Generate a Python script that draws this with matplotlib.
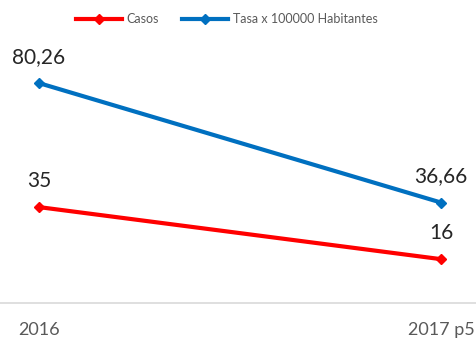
import matplotlib.pyplot as plt

# data
years = ["2016", "2017 p5"]
casos = [35, 16]
tasa = [80.26, 36.66]
casos_labels = ["35", "16"]
tasa_labels = ["80,26", "36,66"]

plt.rcParams['font.family'] = ['Lato', 'DejaVu Sans']

fig = plt.figure(figsize=(4.77, 3.41), dpi=100)
ax = fig.add_axes([0, 38 / 341, 1, 274 / 341])

x = list(range(len(years)))
red = "#FF0000"
blue = "#0070C0"

ax.plot(x, casos, color=red, lw=3, marker="D", ms=5, label="Casos")
ax.plot(x, tasa, color=blue, lw=3, marker="D", ms=5,
        label="Tasa x 100000 Habitantes")

# data labels above points
for xi, v, lab in zip(x, casos, casos_labels):
    ax.annotate(lab, (xi, v), xytext=(0, 19), textcoords="offset points",
                ha="center", va="center", fontsize=15, color="#262626")
for xi, v, lab in zip(x, tasa, tasa_labels):
    ax.annotate(lab, (xi, v), xytext=(0, 19), textcoords="offset points",
                ha="center", va="center", fontsize=15, color="#262626")

ax.set_ylim(0, 100)
ax.set_xlim(-39 / 402, 1 + 36 / 402)
ax.set_yticks([])
ax.set_xticks(x)
ax.set_xticklabels(years, fontsize=13, color="#595959")
ax.tick_params(axis="x", length=0, pad=14)
for s in ["top", "left", "right"]:
    ax.spines[s].set_visible(False)
ax.spines["bottom"].set_color("#D9D9D9")
ax.spines["bottom"].set_linewidth(1.2)

leg = fig.legend(loc="center", bbox_to_anchor=(0.475, 1 - 19 / 341), ncol=2,
                 frameon=False, fontsize=9, handlelength=3.7,
                 columnspacing=1.8, handletextpad=0.4)
for t in leg.get_texts():
    t.set_color("#595959")

fig.savefig("out.png", dpi=100)
